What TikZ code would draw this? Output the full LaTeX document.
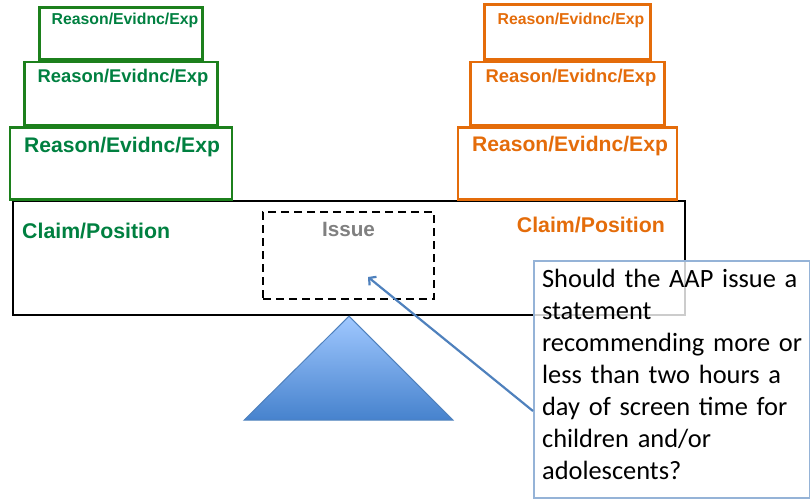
\documentclass[tikz,border=0pt]{standalone}
\usepackage{fontspec}
\setmainfont{Liberation Sans}
\newfontfamily\calibri{Carlito}
\usetikzlibrary{arrows.meta,positioning}
\definecolor{claimgreen}{RGB}{0,128,64}
\definecolor{boxgreen}{RGB}{28,128,28}
\definecolor{claimorange}{RGB}{228,108,10}
\definecolor{noteblue}{RGB}{149,179,215}
\definecolor{arrowblue}{RGB}{79,129,189}
\definecolor{issuegray}{RGB}{128,128,128}

\begin{document}
\begin{tikzpicture}[x=1pt, y=-1pt]
        \tikzstyle{gbox} = [rectangle, draw=boxgreen, line width=2.6pt, inner sep=0pt]
        \tikzstyle{obox} = [rectangle, draw=claimorange, line width=2.6pt, inner sep=0pt]
        \tikzstyle{gtext} = [text=claimgreen, inner sep=0pt, anchor=north]
        \tikzstyle{otext} = [text=claimorange, inner sep=0pt, anchor=north]
        \tikzstyle{arrow} = [-{Straight Barb[length=5pt,width=11pt]}, line width=2.2pt, draw=arrowblue]
        \useasboundingbox (0,0) rectangle (810,498);
        % the beam and its support
        \node (beam) [rectangle, draw, line width=2.4pt, minimum width=672pt, minimum height=114pt] at (349,258) {};
        \shadedraw[draw=arrowblue, line width=1pt, top color={rgb,255:red,160;green,200;blue,255}, bottom color={rgb,255:red,70;green,130;blue,205}] (beam.south) -- ++(104,104) -- ++(-209,0) -- cycle;
        % left stack
        \node (gbot) [gbox, minimum width=222pt, minimum height=72pt, anchor=south, label={[gtext, font=\bfseries\fontsize{21.1}{24}\selectfont, yshift=-10.5pt, xshift=1pt]north:Reason/Evidnc/Exp}] at (121,201) {};
        \node (gmid) [gbox, minimum width=193pt, minimum height=63pt, above=0pt of gbot, label={[gtext, font=\bfseries\fontsize{18.4}{21}\selectfont, yshift=-8pt, xshift=2pt]north:Reason/Evidnc/Exp}] {};
        \node (gtop) [gbox, minimum width=163pt, minimum height=52pt, above=0pt of gmid, label={[gtext, font=\bfseries\fontsize{15.8}{18}\selectfont, yshift=-6.8pt, xshift=4pt]north:Reason/Evidnc/Exp}] {};
        % right stack
        \node (obot) [obox, minimum width=219pt, minimum height=72pt, anchor=south, label={[otext, font=\bfseries\fontsize{21.1}{24}\selectfont, yshift=-9.5pt, xshift=2.5pt]north:Reason/Evidnc/Exp}] at (567.5,201) {};
        \node (omid) [obox, minimum width=194pt, minimum height=63pt, above=0pt of obot, label={[otext, font=\bfseries\fontsize{18.4}{21}\selectfont, yshift=-8pt, xshift=3.5pt]north:Reason/Evidnc/Exp}] {};
        \node (otop) [obox, minimum width=166pt, minimum height=55pt, above=0pt of omid, label={[otext, font=\bfseries\fontsize{15.8}{18}\selectfont, yshift=-9.5pt, xshift=3.5pt]north:Reason/Evidnc/Exp}] {};
        % claims and issue
        \node (gclaim) [text=claimgreen, inner sep=0pt, anchor=west, font=\bfseries\fontsize{21.3}{24}\selectfont] at (22,231) {Claim/Position};
        \node (oclaim) [text=claimorange, inner sep=0pt, anchor=east, font=\bfseries\fontsize{21.3}{24}\selectfont] at (665,225) {Claim/Position};
        \node (issue) [rectangle, draw, line width=2.2pt, dash pattern=on 8pt off 5pt, minimum width=171pt, minimum height=87pt, label={[text=issuegray, inner sep=0pt, anchor=north, font=\bfseries\fontsize{20.7}{24}\selectfont, yshift=-11.6pt]north:Issue}] at (348.5,255.5) {};
        % question
        \node (note) [draw=noteblue, line width=2.2pt, fill=white, fill opacity=0.8, text opacity=1, anchor=north west, align=left, text width=260pt, inner xsep=8pt, inner ysep=8.5pt, text depth=201.5pt, font=\calibri\fontsize{26.4}{32}\selectfont] at (533,260) {Should the AAP issue a\\statement\\recommending more or\\less than two hours a\\day of screen time for\\children and/or\\adolescents?};
        \draw[arrow] ([yshift=-31.5pt]note.west) -- ([xshift=19.5pt, yshift=-21.5pt]issue.center);
    \end{tikzpicture}
\end{document}
